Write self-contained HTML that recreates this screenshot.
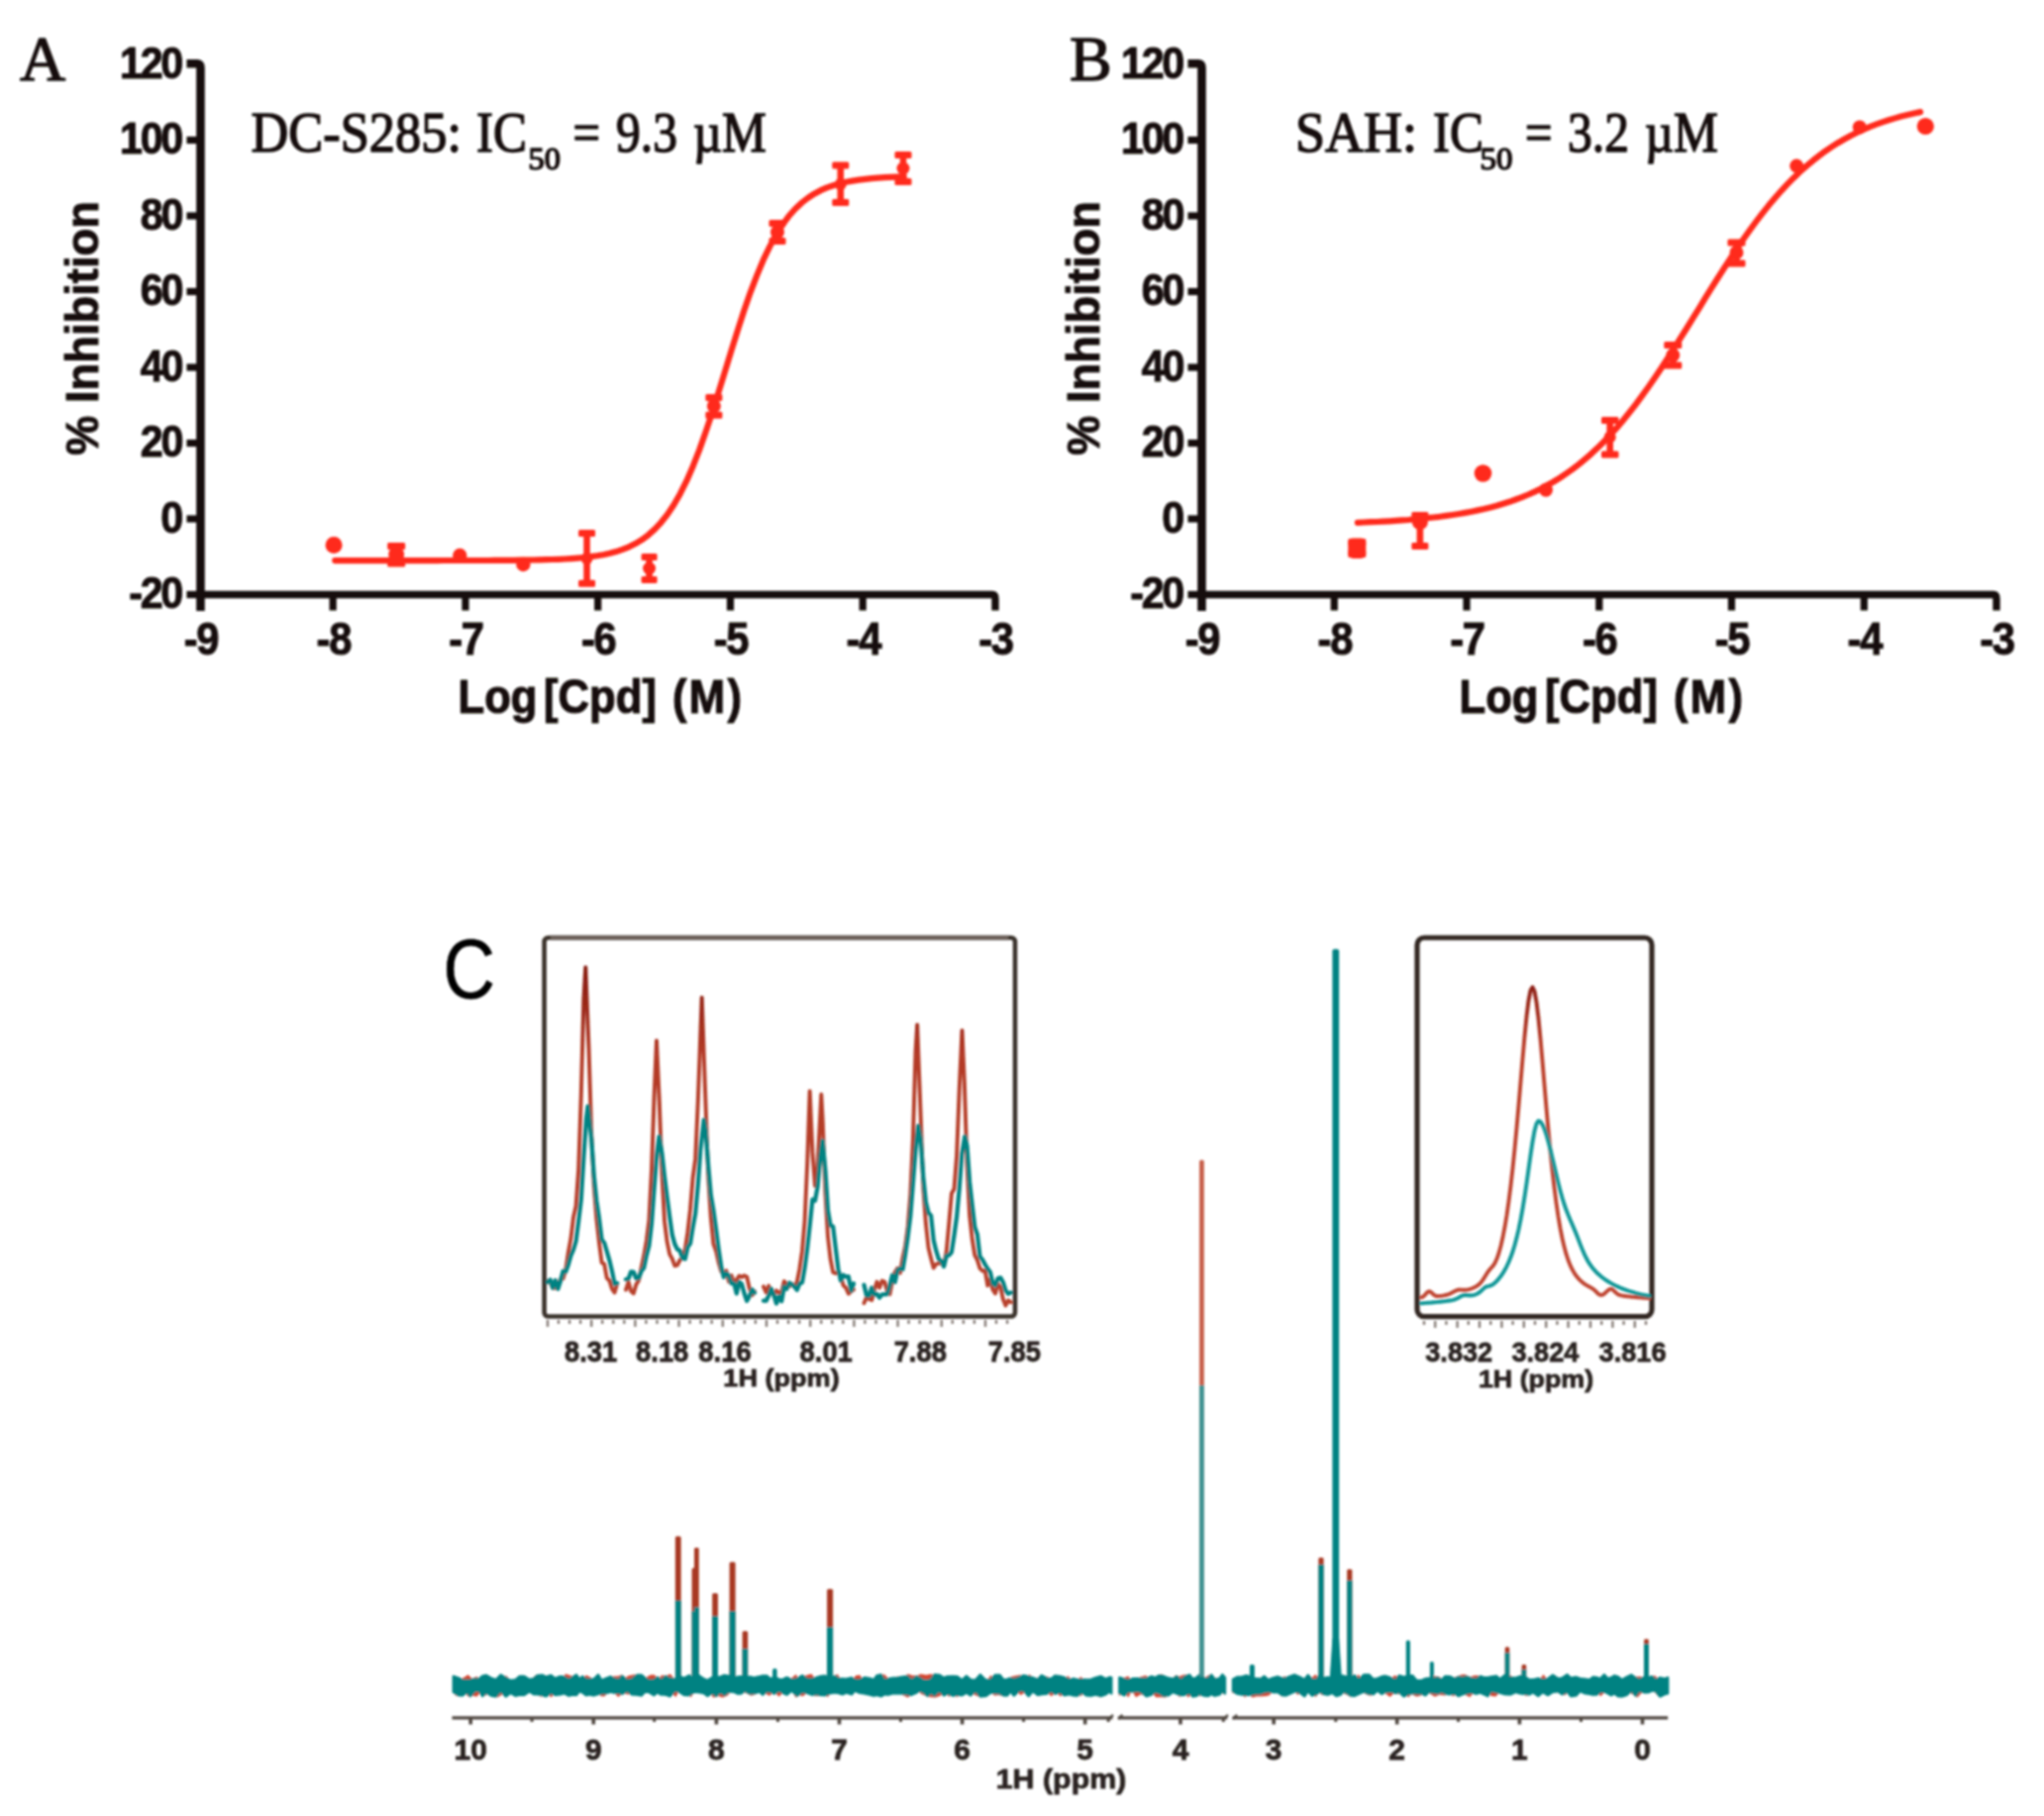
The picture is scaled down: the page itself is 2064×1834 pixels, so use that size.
<!DOCTYPE html>
<html lang="en">
<head>
<meta charset="utf-8">
<title>Figure: IC50 curves and 1H NMR spectra</title>
<style>
html,body{margin:0;padding:0;background:#fff;}
body{width:2064px;height:1834px;overflow:hidden;}
svg{display:block;}
text{white-space:pre;}
</style>
</head>
<body>
<svg width="2064" height="1834" viewBox="0 0 2064 1834">
<defs><filter id="soft" x="-2%" y="-2%" width="104%" height="104%"><feGaussianBlur stdDeviation="1.15"/></filter></defs>
<rect width="2064" height="1834" fill="#ffffff"/>
<g filter="url(#soft)">
<g>
<path d="M188.5 64.3 H199.5 Q202.5 64.3 202.5 68.3 V617" fill="none" stroke="#17110d" stroke-width="8.6" stroke-linejoin="round"/>
<path d="M198.5 600.5 H1002 Q1005 600.5 1005 604.5 V616.5" fill="none" stroke="#17110d" stroke-width="7.4" stroke-linejoin="round"/>
<rect x="188.5" y="596.9" width="14" height="7.2" fill="#17110d"/>
<text transform="translate(183 614) scale(0.92 1)" font-family='"Liberation Sans", Arial, Helvetica, sans-serif' font-size="45" font-weight="bold" text-anchor="end" fill="#17110d" letter-spacing="-2.6" stroke="#17110d" stroke-width="1.0" stroke-linejoin="round">-20</text>
<rect x="188.5" y="520.4" width="14" height="7.2" fill="#17110d"/>
<text transform="translate(183 537.5) scale(0.92 1)" font-family='"Liberation Sans", Arial, Helvetica, sans-serif' font-size="45" font-weight="bold" text-anchor="end" fill="#17110d" letter-spacing="-2.6" stroke="#17110d" stroke-width="1.0" stroke-linejoin="round">0</text>
<rect x="188.5" y="443.9" width="14" height="7.2" fill="#17110d"/>
<text transform="translate(183 461) scale(0.92 1)" font-family='"Liberation Sans", Arial, Helvetica, sans-serif' font-size="45" font-weight="bold" text-anchor="end" fill="#17110d" letter-spacing="-2.6" stroke="#17110d" stroke-width="1.0" stroke-linejoin="round">20</text>
<rect x="188.5" y="367.4" width="14" height="7.2" fill="#17110d"/>
<text transform="translate(183 384.5) scale(0.92 1)" font-family='"Liberation Sans", Arial, Helvetica, sans-serif' font-size="45" font-weight="bold" text-anchor="end" fill="#17110d" letter-spacing="-2.6" stroke="#17110d" stroke-width="1.0" stroke-linejoin="round">40</text>
<rect x="188.5" y="290.9" width="14" height="7.2" fill="#17110d"/>
<text transform="translate(183 308) scale(0.92 1)" font-family='"Liberation Sans", Arial, Helvetica, sans-serif' font-size="45" font-weight="bold" text-anchor="end" fill="#17110d" letter-spacing="-2.6" stroke="#17110d" stroke-width="1.0" stroke-linejoin="round">60</text>
<rect x="188.5" y="214.4" width="14" height="7.2" fill="#17110d"/>
<text transform="translate(183 231.5) scale(0.92 1)" font-family='"Liberation Sans", Arial, Helvetica, sans-serif' font-size="45" font-weight="bold" text-anchor="end" fill="#17110d" letter-spacing="-2.6" stroke="#17110d" stroke-width="1.0" stroke-linejoin="round">80</text>
<rect x="188.5" y="137.9" width="14" height="7.2" fill="#17110d"/>
<text transform="translate(183 155) scale(0.92 1)" font-family='"Liberation Sans", Arial, Helvetica, sans-serif' font-size="45" font-weight="bold" text-anchor="end" fill="#17110d" letter-spacing="-2.6" stroke="#17110d" stroke-width="1.0" stroke-linejoin="round">100</text>
<text transform="translate(183 78.5) scale(0.92 1)" font-family='"Liberation Sans", Arial, Helvetica, sans-serif' font-size="45" font-weight="bold" text-anchor="end" fill="#17110d" letter-spacing="-2.6" stroke="#17110d" stroke-width="1.0" stroke-linejoin="round">120</text>
<text transform="translate(203 661) scale(0.92 1)" font-family='"Liberation Sans", Arial, Helvetica, sans-serif' font-size="45.5" font-weight="bold" text-anchor="middle" fill="#17110d" letter-spacing="-1.5" stroke="#17110d" stroke-width="1.0" stroke-linejoin="round">-9</text>
<rect x="332.6" y="600.5" width="7.2" height="16" fill="#17110d"/>
<text transform="translate(336.8 661) scale(0.92 1)" font-family='"Liberation Sans", Arial, Helvetica, sans-serif' font-size="45.5" font-weight="bold" text-anchor="middle" fill="#17110d" letter-spacing="-1.5" stroke="#17110d" stroke-width="1.0" stroke-linejoin="round">-8</text>
<rect x="466.4" y="600.5" width="7.2" height="16" fill="#17110d"/>
<text transform="translate(470.5 661) scale(0.92 1)" font-family='"Liberation Sans", Arial, Helvetica, sans-serif' font-size="45.5" font-weight="bold" text-anchor="middle" fill="#17110d" letter-spacing="-1.5" stroke="#17110d" stroke-width="1.0" stroke-linejoin="round">-7</text>
<rect x="600.1" y="600.5" width="7.2" height="16" fill="#17110d"/>
<text transform="translate(604.2 661) scale(0.92 1)" font-family='"Liberation Sans", Arial, Helvetica, sans-serif' font-size="45.5" font-weight="bold" text-anchor="middle" fill="#17110d" letter-spacing="-1.5" stroke="#17110d" stroke-width="1.0" stroke-linejoin="round">-6</text>
<rect x="733.9" y="600.5" width="7.2" height="16" fill="#17110d"/>
<text transform="translate(738 661) scale(0.92 1)" font-family='"Liberation Sans", Arial, Helvetica, sans-serif' font-size="45.5" font-weight="bold" text-anchor="middle" fill="#17110d" letter-spacing="-1.5" stroke="#17110d" stroke-width="1.0" stroke-linejoin="round">-5</text>
<rect x="867.6" y="600.5" width="7.2" height="16" fill="#17110d"/>
<text transform="translate(871.8 661) scale(0.92 1)" font-family='"Liberation Sans", Arial, Helvetica, sans-serif' font-size="45.5" font-weight="bold" text-anchor="middle" fill="#17110d" letter-spacing="-1.5" stroke="#17110d" stroke-width="1.0" stroke-linejoin="round">-4</text>
<text transform="translate(1005.5 661) scale(0.92 1)" font-family='"Liberation Sans", Arial, Helvetica, sans-serif' font-size="45.5" font-weight="bold" text-anchor="middle" fill="#17110d" letter-spacing="-1.5" stroke="#17110d" stroke-width="1.0" stroke-linejoin="round">-3</text>
<text transform="translate(462.5 719.5) scale(0.92 1)" font-family='"Liberation Sans", Arial, Helvetica, sans-serif' font-size="47.5" font-weight="bold" text-anchor="start" fill="#17110d" stroke="#17110d" stroke-width="1.1" stroke-linejoin="round">Log</text>
<text transform="translate(549 719.5) scale(0.92 1)" font-family='"Liberation Sans", Arial, Helvetica, sans-serif' font-size="47.5" font-weight="bold" text-anchor="start" fill="#17110d" stroke="#17110d" stroke-width="1.1" stroke-linejoin="round">[Cpd]</text>
<text transform="translate(664.5 719.5) scale(0.92 1)" font-family='"Liberation Sans", Arial, Helvetica, sans-serif' font-size="47.5" font-weight="bold" text-anchor="start" fill="#17110d" letter-spacing="2.5" stroke="#17110d" stroke-width="1.1" stroke-linejoin="round"> (M)</text>
<g transform="translate(99 460) rotate(-90)">
<text x="0" y="0" font-family='"Liberation Sans", Arial, Helvetica, sans-serif' font-size="47" font-weight="bold" text-anchor="start" fill="#17110d" textLength="257" lengthAdjust="spacingAndGlyphs" stroke="#17110d" stroke-width="1.0" stroke-linejoin="round" >% Inhibition</text>
</g>
<text x="20" y="81" font-family='"Liberation Serif", "Times New Roman", Times, serif' font-size="64" font-weight="normal" text-anchor="start" fill="#17110d" stroke="#17110d" stroke-width="1.4" stroke-linejoin="round" >A</text>
<text x="253.5" y="152.5" font-family='"Liberation Serif", "Times New Roman", Times, serif' font-size="57" font-weight="normal" text-anchor="start" fill="#17110d" textLength="212.5" lengthAdjust="spacingAndGlyphs" stroke="#17110d" stroke-width="1.5" stroke-linejoin="round" >DC-S285:</text>
<text x="481" y="152.5" font-family='"Liberation Serif", "Times New Roman", Times, serif' font-size="57" font-weight="normal" text-anchor="start" fill="#17110d" textLength="51" lengthAdjust="spacingAndGlyphs" stroke="#17110d" stroke-width="1.5" stroke-linejoin="round" >IC</text>
<text x="533.5" y="170.5" font-family='"Liberation Serif", "Times New Roman", Times, serif' font-size="32" font-weight="normal" text-anchor="start" fill="#17110d" textLength="32.5" lengthAdjust="spacingAndGlyphs" stroke="#17110d" stroke-width="1.5" stroke-linejoin="round" >50</text>
<text x="578.5" y="152.5" font-family='"Liberation Serif", "Times New Roman", Times, serif' font-size="57" font-weight="normal" text-anchor="start" fill="#17110d" textLength="27.5" lengthAdjust="spacingAndGlyphs" stroke="#17110d" stroke-width="1.5" stroke-linejoin="round" >=</text>
<text x="622" y="152.5" font-family='"Liberation Serif", "Times New Roman", Times, serif' font-size="57" font-weight="normal" text-anchor="start" fill="#17110d" textLength="62" lengthAdjust="spacingAndGlyphs" stroke="#17110d" stroke-width="1.5" stroke-linejoin="round" >9.3</text>
<text x="700" y="152.5" font-family='"Liberation Serif", "Times New Roman", Times, serif' font-size="57" font-weight="normal" text-anchor="start" fill="#17110d" textLength="74" lengthAdjust="spacingAndGlyphs" stroke="#17110d" stroke-width="1.5" stroke-linejoin="round" >µM</text>
<path d="M338.3 566.1 L344.7 566.1 L351.2 566.1 L357.6 566.1 L364.1 566.1 L370.5 566.1 L377 566.1 L383.4 566.1 L389.9 566.1 L396.3 566.1 L402.8 566.1 L409.3 566.1 L415.7 566.1 L422.2 566.1 L428.6 566.1 L435.1 566.1 L441.5 566.1 L448 566 L454.4 566 L460.9 566 L467.3 566 L473.8 566 L480.3 566 L486.7 566 L493.2 566 L499.6 565.9 L506.1 565.9 L512.5 565.8 L519 565.8 L525.4 565.7 L531.9 565.6 L538.3 565.5 L544.8 565.4 L551.3 565.2 L557.7 565 L564.2 564.8 L570.6 564.5 L577.1 564.1 L583.5 563.6 L590 563 L596.4 562.2 L602.9 561.3 L609.3 560.2 L615.8 558.8 L622.3 557.1 L628.7 554.9 L635.2 552.3 L641.6 549.1 L648.1 545.2 L654.5 540.4 L661 534.7 L667.4 527.8 L673.9 519.6 L680.3 510 L686.8 498.7 L693.3 485.7 L699.7 470.9 L706.2 454.4 L712.6 436.3 L719.1 416.9 L725.5 396.4 L732 375.4 L738.4 354.3 L744.9 333.6 L751.3 313.7 L757.8 295.1 L764.3 278.1 L770.7 262.7 L777.2 249.1 L783.6 237.2 L790.1 227 L796.5 218.3 L803 211 L809.4 204.9 L815.9 199.9 L822.3 195.7 L828.8 192.2 L835.3 189.4 L841.7 187.2 L848.2 185.3 L854.6 183.8 L861.1 182.6 L867.5 181.6 L874 180.8 L880.4 180.1 L886.9 179.6 L893.3 179.2 L899.8 178.9 L906.3 178.6 L912.7 178.4" fill="none" stroke="#ff2a1c" stroke-width="6.2" stroke-linecap="round" stroke-linejoin="round"/>
<circle cx="337.1" cy="550.4" r="8.5" fill="#ff2a1c"/>
<path d="M400.2 549 V571.4" stroke="#ff2a1c" stroke-width="6.6" fill="none"/>
<rect x="391.2" y="548" width="18" height="7" rx="1.5" fill="#ff2a1c"/>
<rect x="391.2" y="565.4" width="18" height="7" rx="1.5" fill="#ff2a1c"/>
<circle cx="400.2" cy="560" r="8" fill="#ff2a1c"/>
<circle cx="464.3" cy="561" r="7.2" fill="#ff2a1c"/>
<circle cx="528.4" cy="570" r="7.2" fill="#ff2a1c"/>
<path d="M592.6 536 V591.7" stroke="#ff2a1c" stroke-width="6.6" fill="none"/>
<rect x="584.1" y="535" width="17" height="7" rx="1.5" fill="#ff2a1c"/>
<rect x="584.1" y="585.7" width="17" height="7" rx="1.5" fill="#ff2a1c"/>
<circle cx="592.6" cy="564" r="6" fill="#ff2a1c"/>
<path d="M655.6 560 V588" stroke="#ff2a1c" stroke-width="6.6" fill="none"/>
<rect x="647.6" y="559" width="16" height="7" rx="1.5" fill="#ff2a1c"/>
<rect x="647.6" y="582" width="16" height="7" rx="1.5" fill="#ff2a1c"/>
<circle cx="655.6" cy="574" r="6.5" fill="#ff2a1c"/>
<path d="M720.9 399 V421.8" stroke="#ff2a1c" stroke-width="6.6" fill="none"/>
<rect x="712.4" y="398" width="17" height="7" rx="1.5" fill="#ff2a1c"/>
<rect x="712.4" y="415.8" width="17" height="7" rx="1.5" fill="#ff2a1c"/>
<circle cx="720.9" cy="410" r="7" fill="#ff2a1c"/>
<path d="M785 223 V246" stroke="#ff2a1c" stroke-width="6.6" fill="none"/>
<rect x="776.5" y="222" width="17" height="7" rx="1.5" fill="#ff2a1c"/>
<rect x="776.5" y="240" width="17" height="7" rx="1.5" fill="#ff2a1c"/>
<circle cx="785" cy="234.5" r="7" fill="#ff2a1c"/>
<path d="M848.8 164.6 V207" stroke="#ff2a1c" stroke-width="6.6" fill="none"/>
<rect x="840.3" y="163.6" width="17" height="7" rx="1.5" fill="#ff2a1c"/>
<rect x="840.3" y="201" width="17" height="7" rx="1.5" fill="#ff2a1c"/>
<circle cx="848.8" cy="186" r="6" fill="#ff2a1c"/>
<path d="M912 154 V186" stroke="#ff2a1c" stroke-width="6.6" fill="none"/>
<rect x="903.5" y="153" width="17" height="7" rx="1.5" fill="#ff2a1c"/>
<rect x="903.5" y="180" width="17" height="7" rx="1.5" fill="#ff2a1c"/>
<circle cx="912" cy="170" r="6.5" fill="#ff2a1c"/>
</g>
<g>
<path d="M1199.5 64.3 H1210.5 Q1213.5 64.3 1213.5 68.3 V617" fill="none" stroke="#17110d" stroke-width="8.6" stroke-linejoin="round"/>
<path d="M1209.5 600.5 H2013 Q2016 600.5 2016 604.5 V616.5" fill="none" stroke="#17110d" stroke-width="7.4" stroke-linejoin="round"/>
<rect x="1199.5" y="596.9" width="14" height="7.2" fill="#17110d"/>
<text transform="translate(1194 614) scale(0.92 1)" font-family='"Liberation Sans", Arial, Helvetica, sans-serif' font-size="45" font-weight="bold" text-anchor="end" fill="#17110d" letter-spacing="-2.6" stroke="#17110d" stroke-width="1.0" stroke-linejoin="round">-20</text>
<rect x="1199.5" y="520.4" width="14" height="7.2" fill="#17110d"/>
<text transform="translate(1194 537.5) scale(0.92 1)" font-family='"Liberation Sans", Arial, Helvetica, sans-serif' font-size="45" font-weight="bold" text-anchor="end" fill="#17110d" letter-spacing="-2.6" stroke="#17110d" stroke-width="1.0" stroke-linejoin="round">0</text>
<rect x="1199.5" y="443.9" width="14" height="7.2" fill="#17110d"/>
<text transform="translate(1194 461) scale(0.92 1)" font-family='"Liberation Sans", Arial, Helvetica, sans-serif' font-size="45" font-weight="bold" text-anchor="end" fill="#17110d" letter-spacing="-2.6" stroke="#17110d" stroke-width="1.0" stroke-linejoin="round">20</text>
<rect x="1199.5" y="367.4" width="14" height="7.2" fill="#17110d"/>
<text transform="translate(1194 384.5) scale(0.92 1)" font-family='"Liberation Sans", Arial, Helvetica, sans-serif' font-size="45" font-weight="bold" text-anchor="end" fill="#17110d" letter-spacing="-2.6" stroke="#17110d" stroke-width="1.0" stroke-linejoin="round">40</text>
<rect x="1199.5" y="290.9" width="14" height="7.2" fill="#17110d"/>
<text transform="translate(1194 308) scale(0.92 1)" font-family='"Liberation Sans", Arial, Helvetica, sans-serif' font-size="45" font-weight="bold" text-anchor="end" fill="#17110d" letter-spacing="-2.6" stroke="#17110d" stroke-width="1.0" stroke-linejoin="round">60</text>
<rect x="1199.5" y="214.4" width="14" height="7.2" fill="#17110d"/>
<text transform="translate(1194 231.5) scale(0.92 1)" font-family='"Liberation Sans", Arial, Helvetica, sans-serif' font-size="45" font-weight="bold" text-anchor="end" fill="#17110d" letter-spacing="-2.6" stroke="#17110d" stroke-width="1.0" stroke-linejoin="round">80</text>
<rect x="1199.5" y="137.9" width="14" height="7.2" fill="#17110d"/>
<text transform="translate(1194 155) scale(0.92 1)" font-family='"Liberation Sans", Arial, Helvetica, sans-serif' font-size="45" font-weight="bold" text-anchor="end" fill="#17110d" letter-spacing="-2.6" stroke="#17110d" stroke-width="1.0" stroke-linejoin="round">100</text>
<text transform="translate(1194 78.5) scale(0.92 1)" font-family='"Liberation Sans", Arial, Helvetica, sans-serif' font-size="45" font-weight="bold" text-anchor="end" fill="#17110d" letter-spacing="-2.6" stroke="#17110d" stroke-width="1.0" stroke-linejoin="round">120</text>
<text transform="translate(1214 661) scale(0.92 1)" font-family='"Liberation Sans", Arial, Helvetica, sans-serif' font-size="45.5" font-weight="bold" text-anchor="middle" fill="#17110d" letter-spacing="-1.5" stroke="#17110d" stroke-width="1.0" stroke-linejoin="round">-9</text>
<rect x="1343.7" y="600.5" width="7.2" height="16" fill="#17110d"/>
<text transform="translate(1347.8 661) scale(0.92 1)" font-family='"Liberation Sans", Arial, Helvetica, sans-serif' font-size="45.5" font-weight="bold" text-anchor="middle" fill="#17110d" letter-spacing="-1.5" stroke="#17110d" stroke-width="1.0" stroke-linejoin="round">-8</text>
<rect x="1477.4" y="600.5" width="7.2" height="16" fill="#17110d"/>
<text transform="translate(1481.5 661) scale(0.92 1)" font-family='"Liberation Sans", Arial, Helvetica, sans-serif' font-size="45.5" font-weight="bold" text-anchor="middle" fill="#17110d" letter-spacing="-1.5" stroke="#17110d" stroke-width="1.0" stroke-linejoin="round">-7</text>
<rect x="1611.2" y="600.5" width="7.2" height="16" fill="#17110d"/>
<text transform="translate(1615.2 661) scale(0.92 1)" font-family='"Liberation Sans", Arial, Helvetica, sans-serif' font-size="45.5" font-weight="bold" text-anchor="middle" fill="#17110d" letter-spacing="-1.5" stroke="#17110d" stroke-width="1.0" stroke-linejoin="round">-6</text>
<rect x="1744.9" y="600.5" width="7.2" height="16" fill="#17110d"/>
<text transform="translate(1749 661) scale(0.92 1)" font-family='"Liberation Sans", Arial, Helvetica, sans-serif' font-size="45.5" font-weight="bold" text-anchor="middle" fill="#17110d" letter-spacing="-1.5" stroke="#17110d" stroke-width="1.0" stroke-linejoin="round">-5</text>
<rect x="1878.7" y="600.5" width="7.2" height="16" fill="#17110d"/>
<text transform="translate(1882.8 661) scale(0.92 1)" font-family='"Liberation Sans", Arial, Helvetica, sans-serif' font-size="45.5" font-weight="bold" text-anchor="middle" fill="#17110d" letter-spacing="-1.5" stroke="#17110d" stroke-width="1.0" stroke-linejoin="round">-4</text>
<text transform="translate(2016.5 661) scale(0.92 1)" font-family='"Liberation Sans", Arial, Helvetica, sans-serif' font-size="45.5" font-weight="bold" text-anchor="middle" fill="#17110d" letter-spacing="-1.5" stroke="#17110d" stroke-width="1.0" stroke-linejoin="round">-3</text>
<text transform="translate(1473.5 719.5) scale(0.92 1)" font-family='"Liberation Sans", Arial, Helvetica, sans-serif' font-size="47.5" font-weight="bold" text-anchor="start" fill="#17110d" stroke="#17110d" stroke-width="1.1" stroke-linejoin="round">Log</text>
<text transform="translate(1560 719.5) scale(0.92 1)" font-family='"Liberation Sans", Arial, Helvetica, sans-serif' font-size="47.5" font-weight="bold" text-anchor="start" fill="#17110d" stroke="#17110d" stroke-width="1.1" stroke-linejoin="round">[Cpd]</text>
<text transform="translate(1675.5 719.5) scale(0.92 1)" font-family='"Liberation Sans", Arial, Helvetica, sans-serif' font-size="47.5" font-weight="bold" text-anchor="start" fill="#17110d" letter-spacing="2.5" stroke="#17110d" stroke-width="1.1" stroke-linejoin="round"> (M)</text>
<g transform="translate(1110 460) rotate(-90)">
<text x="0" y="0" font-family='"Liberation Sans", Arial, Helvetica, sans-serif' font-size="47" font-weight="bold" text-anchor="start" fill="#17110d" textLength="257" lengthAdjust="spacingAndGlyphs" stroke="#17110d" stroke-width="1.0" stroke-linejoin="round" >% Inhibition</text>
</g>
<text x="1080" y="81" font-family='"Liberation Serif", "Times New Roman", Times, serif' font-size="64" font-weight="normal" text-anchor="start" fill="#17110d" stroke="#17110d" stroke-width="1.4" stroke-linejoin="round" >B</text>
<text x="1308" y="152.5" font-family='"Liberation Serif", "Times New Roman", Times, serif' font-size="57" font-weight="normal" text-anchor="start" fill="#17110d" textLength="123" lengthAdjust="spacingAndGlyphs" stroke="#17110d" stroke-width="1.5" stroke-linejoin="round" >SAH:</text>
<text x="1447" y="152.5" font-family='"Liberation Serif", "Times New Roman", Times, serif' font-size="57" font-weight="normal" text-anchor="start" fill="#17110d" textLength="51" lengthAdjust="spacingAndGlyphs" stroke="#17110d" stroke-width="1.5" stroke-linejoin="round" >IC</text>
<text x="1494.5" y="170.8" font-family='"Liberation Serif", "Times New Roman", Times, serif' font-size="32" font-weight="normal" text-anchor="start" fill="#17110d" textLength="33" lengthAdjust="spacingAndGlyphs" stroke="#17110d" stroke-width="1.5" stroke-linejoin="round" >50</text>
<text x="1540" y="152.5" font-family='"Liberation Serif", "Times New Roman", Times, serif' font-size="57" font-weight="normal" text-anchor="start" fill="#17110d" textLength="27.5" lengthAdjust="spacingAndGlyphs" stroke="#17110d" stroke-width="1.5" stroke-linejoin="round" >=</text>
<text x="1583" y="152.5" font-family='"Liberation Serif", "Times New Roman", Times, serif' font-size="57" font-weight="normal" text-anchor="start" fill="#17110d" textLength="62" lengthAdjust="spacingAndGlyphs" stroke="#17110d" stroke-width="1.5" stroke-linejoin="round" >3.2</text>
<text x="1661" y="152.5" font-family='"Liberation Serif", "Times New Roman", Times, serif' font-size="57" font-weight="normal" text-anchor="start" fill="#17110d" textLength="74" lengthAdjust="spacingAndGlyphs" stroke="#17110d" stroke-width="1.5" stroke-linejoin="round" >µM</text>
<path d="M1370.9 527.8 L1377.3 527.5 L1383.7 527.2 L1390.1 527 L1396.5 526.6 L1402.8 526.3 L1409.2 525.9 L1415.6 525.4 L1422 525 L1428.4 524.4 L1434.8 523.9 L1441.1 523.2 L1447.5 522.5 L1453.9 521.8 L1460.3 520.9 L1466.7 520 L1473.1 519 L1479.5 517.9 L1485.8 516.7 L1492.2 515.4 L1498.6 514 L1505 512.4 L1511.4 510.7 L1517.8 508.8 L1524.1 506.8 L1530.5 504.5 L1536.9 502.1 L1543.3 499.5 L1549.7 496.6 L1556.1 493.5 L1562.4 490.1 L1568.8 486.5 L1575.2 482.6 L1581.6 478.3 L1588 473.8 L1594.4 468.9 L1600.7 463.6 L1607.1 458.1 L1613.5 452.1 L1619.9 445.7 L1626.3 439 L1632.7 431.9 L1639 424.4 L1645.4 416.5 L1651.8 408.3 L1658.2 399.7 L1664.6 390.8 L1671 381.6 L1677.4 372.1 L1683.7 362.3 L1690.1 352.4 L1696.5 342.2 L1702.9 332 L1709.3 321.7 L1715.7 311.3 L1722 300.9 L1728.4 290.7 L1734.8 280.5 L1741.2 270.5 L1747.6 260.6 L1754 251 L1760.3 241.7 L1766.7 232.7 L1773.1 224 L1779.5 215.6 L1785.9 207.6 L1792.3 200 L1798.6 192.8 L1805 185.9 L1811.4 179.4 L1817.8 173.3 L1824.2 167.6 L1830.6 162.3 L1837 157.3 L1843.3 152.6 L1849.7 148.3 L1856.1 144.2 L1862.5 140.5 L1868.9 137 L1875.3 133.8 L1881.6 130.9 L1888 128.2 L1894.4 125.7 L1900.8 123.4 L1907.2 121.3 L1913.6 119.4 L1919.9 117.6 L1926.3 116 L1932.7 114.5 L1939.1 113.1" fill="none" stroke="#ff2a1c" stroke-width="6.2" stroke-linecap="round" stroke-linejoin="round"/>
<path d="M1370.3 545 V562" stroke="#ff2a1c" stroke-width="6.6" fill="none"/>
<rect x="1361.3" y="544" width="18" height="7" rx="1.5" fill="#ff2a1c"/>
<rect x="1361.3" y="556" width="18" height="7" rx="1.5" fill="#ff2a1c"/>
<path d="M1433.9 518 V554" stroke="#ff2a1c" stroke-width="6.6" fill="none"/>
<rect x="1425.4" y="517" width="17" height="7" rx="1.5" fill="#ff2a1c"/>
<rect x="1425.4" y="548" width="17" height="7" rx="1.5" fill="#ff2a1c"/>
<circle cx="1433.9" cy="527" r="8" fill="#ff2a1c"/>
<circle cx="1497.5" cy="478" r="8.8" fill="#ff2a1c"/>
<circle cx="1561" cy="494.7" r="7" fill="#ff2a1c"/>
<path d="M1625.7 422 V461.4" stroke="#ff2a1c" stroke-width="6.6" fill="none"/>
<rect x="1617" y="421" width="17.5" height="7" rx="1.5" fill="#ff2a1c"/>
<rect x="1617" y="455.4" width="17.5" height="7" rx="1.5" fill="#ff2a1c"/>
<circle cx="1625.7" cy="441.4" r="6" fill="#ff2a1c"/>
<path d="M1689.3 346 V371.4" stroke="#ff2a1c" stroke-width="6.6" fill="none"/>
<rect x="1680.3" y="345" width="18" height="7" rx="1.5" fill="#ff2a1c"/>
<rect x="1680.3" y="365.4" width="18" height="7" rx="1.5" fill="#ff2a1c"/>
<circle cx="1689.3" cy="358.7" r="7" fill="#ff2a1c"/>
<path d="M1753.5 242.5 V268.4" stroke="#ff2a1c" stroke-width="6.6" fill="none"/>
<rect x="1744.5" y="241.5" width="18" height="7" rx="1.5" fill="#ff2a1c"/>
<rect x="1744.5" y="262.4" width="18" height="7" rx="1.5" fill="#ff2a1c"/>
<circle cx="1753.5" cy="255" r="7" fill="#ff2a1c"/>
<circle cx="1814.2" cy="167.6" r="7" fill="#ff2a1c"/>
<circle cx="1877.8" cy="128.5" r="7" fill="#ff2a1c"/>
<circle cx="1944.3" cy="127.5" r="8.6" fill="#ff2a1c"/>
</g>
<rect x="1361.3" y="543.5" width="18" height="20.5" rx="5" fill="#ff2a1c"/>
<defs><linearGradient id="rg" gradientUnits="userSpaceOnUse" x1="0" y1="975" x2="0" y2="1300"><stop offset="0" stop-color="#861a0e"/><stop offset="0.28" stop-color="#b43b27"/><stop offset="1" stop-color="#b8402b"/></linearGradient></defs>
<g>
<rect x="549.6" y="947" width="475.4" height="382.5" rx="4" fill="none" stroke="#3a322c" stroke-width="4.6"/>
<path d="M556 947 H1018" stroke="#6a5e57" stroke-width="4.6" fill="none"/>
<path d="M553 1293.9 L555.6 1295.2 L558.2 1300.8 L560.8 1300.9 L563.4 1299.8 L566 1291.9 L568.6 1291.3 L571.2 1282.4 L573.8 1265.1 L576.4 1250.9 L579 1229.4 L581.6 1217.9 L584.2 1181 L586.8 1105.7 L589.4 1009 L591.3 976.9 L594.6 1060.2 L597.2 1145.1 L599.8 1198.5 L602.4 1231.4 L605 1255 L607.6 1275 L610.2 1276.7 L612.8 1290.8 L615.4 1293.2 L618 1301.6 L620.6 1305.5 L623.2 1296.3" fill="none" stroke="url(#rg)" stroke-width="3.9" stroke-linejoin="round" stroke-linecap="round" opacity="1.0"/>
<path d="M632 1302.6 L634.6 1294.6 L637.2 1304 L639.8 1306.2 L642.4 1297.1 L645 1293.2 L647.6 1280.1 L650.2 1268 L652.8 1253.1 L655.4 1232.3 L658 1181.3 L660.6 1106.9 L663 1050.9 L665.8 1112.7 L668.4 1184.9 L671 1233.2 L673.6 1253.9 L676.2 1266.6 L678.8 1271.3 L681.4 1278.3 L684 1277.6 L686.6 1272.5 L689.2 1270.3 L691.8 1261.7 L694.4 1244.3 L697 1221.4 L699.6 1189.5 L702.2 1170.2 L704.8 1112.3 L708.7 1007.4 L712.6 1116.4 L715.2 1188.7 L717.8 1229.6 L720.4 1256.3 L723 1263.2 L725.6 1274.9 L728.2 1283.8 L730.8 1286.5 L733.4 1283.2 L736 1294.4 L738.6 1288.1 L741.2 1295.8 L743.8 1292.3 L746.4 1288.5 L749 1289.8 L751.6 1288.3 L754.2 1289.5 L756.8 1301.1 L759.4 1308.1 L762 1304.2" fill="none" stroke="url(#rg)" stroke-width="3.9" stroke-linejoin="round" stroke-linecap="round" opacity="1.0"/>
<path d="M771 1299.4 L773.6 1305.2 L776.2 1298.6 L778.8 1306.3 L781.4 1307.6 L784 1303.4 L786.6 1305.5 L789.2 1305 L791.8 1293.9 L794.4 1297 L797 1299 L799.6 1296.5 L802.2 1299.4 L804.8 1294.7 L807.4 1281.3 L810 1263.2 L812.6 1232.8 L815.2 1174.4 L817.7 1101.9 L820.4 1163.7 L823 1197.7 L825.6 1177.4 L829.3 1105.3 L830.8 1133.4 L833.4 1204.3 L836 1249.1 L838.6 1271.7 L841.2 1285 L843.8 1286 L846.4 1284.6 L849 1288.8 L851.6 1298.3 L854.2 1300.4 L856.8 1306.6 L859.4 1304 L862 1302.3" fill="none" stroke="url(#rg)" stroke-width="3.9" stroke-linejoin="round" stroke-linecap="round" opacity="1.0"/>
<path d="M872.5 1316.1 L875.1 1309.9 L877.7 1311.9 L880.3 1313 L882.9 1302.7 L885.5 1294.5 L888.1 1300.5 L890.7 1293.6 L893.3 1294.6 L895.9 1304 L898.5 1307.1 L901.1 1293.5 L903.7 1284.8 L906.3 1280.8 L908.9 1285.6 L911.5 1270.4 L914.1 1258.8 L916.7 1239 L919.3 1206.5 L921.9 1150.7 L924.5 1062.8 L926.2 1034.9 L929.7 1127.4 L932.3 1199.3 L934.9 1235.8 L937.5 1260 L940.1 1270.7 L942.7 1280.5 L945.3 1276.7 L947.9 1275.7 L950.5 1276.2 L953.1 1277.3 L955.7 1263.7 L958.3 1235.3 L960.9 1205.3 L963.5 1200.7 L966.1 1167.1 L968.7 1100.8 L971.5 1040.6 L973.9 1094.4 L976.5 1175.5 L979.1 1227.6 L981.7 1251.4 L984.3 1267.6 L986.9 1272.6 L989.5 1280.8 L992.1 1283.5 L994.7 1283.1 L997.3 1298.3 L999.9 1291.8 L1002.5 1302.5 L1005.1 1306.3 L1007.7 1296.8 L1010.3 1300 L1012.9 1312.1 L1015.5 1318.4 L1018.1 1313.3 L1020.7 1315.1" fill="none" stroke="url(#rg)" stroke-width="3.9" stroke-linejoin="round" stroke-linecap="round" opacity="1.0"/>
<path d="M553 1294.7 L555.6 1292.5 L558.2 1300.6 L560.8 1293 L563.4 1301.6 L566 1293.7 L568.6 1283.8 L571.2 1284.4 L573.8 1277.4 L576.4 1268.1 L579 1262.1 L581.6 1253.5 L584.2 1233.3 L586.8 1211.6 L589.4 1168.3 L592 1129.5 L593.6 1117.2 L597.2 1149.9 L599.8 1187.8 L602.4 1213 L605 1230.4 L607.6 1251.7 L610.2 1255.2 L612.8 1263.8 L615.4 1272.8 L618 1283.7 L620.6 1296.7 L623.2 1295.9" fill="none" stroke="#008282" stroke-width="4.3" stroke-linejoin="round" stroke-linecap="round" opacity="1.0"/>
<path d="M632 1292 L634.6 1291.4 L637.2 1284.3 L639.8 1284.6 L642.4 1291.1 L645 1290.8 L647.6 1283.8 L650.2 1280.4 L652.8 1267.9 L655.4 1258 L658 1235.7 L660.6 1199.8 L663.2 1165.8 L665.6 1147.6 L668.4 1164.6 L671 1188.2 L673.6 1209.1 L676.2 1228.9 L678.8 1247.2 L681.4 1256.5 L684 1261.8 L686.6 1263 L689.2 1270.8 L691.8 1271.4 L694.4 1259.5 L697 1255.8 L699.6 1239.5 L702.2 1225.4 L704.8 1196.5 L707.4 1159.9 L710.8 1130.8 L712.6 1142.1 L715.2 1177.5 L717.8 1206.9 L720.4 1222 L723 1241.1 L725.6 1261.3 L728.2 1278.9 L730.8 1289.8 L733.4 1285.9 L736 1288.6 L738.6 1296.2 L741.2 1295.8 L743.8 1306.3 L746.4 1294.7 L749 1296.7 L751.6 1306.3 L754.2 1313.7 L756.8 1309.2 L759.4 1302.2 L762 1305.6" fill="none" stroke="#008282" stroke-width="4.3" stroke-linejoin="round" stroke-linecap="round" opacity="1.0"/>
<path d="M771 1313.7 L773.6 1313.7 L776.2 1308.6 L778.8 1301.5 L781.4 1307.6 L784 1316.4 L786.6 1309.3 L789.2 1314 L791.8 1299.5 L794.4 1301.6 L797 1295.6 L799.6 1297.3 L802.2 1299.2 L804.8 1302.8 L807.4 1296.2 L810 1295.2 L812.6 1280.2 L815.2 1260.4 L817.8 1236.7 L820.4 1211.5 L823 1212.6 L825.6 1198.7 L828.2 1169.4 L830.6 1152.1 L833.4 1181.9 L836 1222.4 L838.6 1237.5 L841.2 1238.7 L843.8 1260.3 L846.4 1281.6 L849 1293.2 L851.6 1287.8 L854.2 1289.3 L856.8 1289.1 L859.4 1303.4 L862 1296.3" fill="none" stroke="#008282" stroke-width="4.3" stroke-linejoin="round" stroke-linecap="round" opacity="1.0"/>
<path d="M872.5 1297.7 L875.1 1308.4 L877.7 1308.5 L880.3 1300.5 L882.9 1307.4 L885.5 1306.8 L888.1 1310.4 L890.7 1307.4 L893.3 1307.2 L895.9 1307 L898.5 1298 L901.1 1287.8 L903.7 1294.9 L906.3 1283 L908.9 1281.1 L911.5 1282.1 L914.1 1266.8 L916.7 1249.1 L919.3 1228 L921.9 1195.1 L924.5 1161.5 L927.2 1136.9 L929.7 1150.7 L932.3 1188.7 L934.9 1213.9 L937.5 1224.8 L940.1 1227.6 L942.7 1252.4 L945.3 1263.2 L947.9 1271.6 L950.5 1273.6 L953.1 1279.1 L955.7 1268.2 L958.3 1267.6 L960.9 1264.5 L963.5 1247.7 L966.1 1228.9 L968.7 1200.4 L971.3 1165.4 L974.3 1147.7 L976.5 1157.2 L979.1 1193.7 L981.7 1217.1 L984.3 1239.3 L986.9 1246.7 L989.5 1269.2 L992.1 1272.2 L994.7 1277 L997.3 1281.3 L999.9 1284.8 L1002.5 1296.2 L1005.1 1298 L1007.7 1291 L1010.3 1290.4 L1012.9 1295 L1015.5 1303.4 L1018.1 1306.6 L1020.7 1305.4" fill="none" stroke="#008282" stroke-width="4.3" stroke-linejoin="round" stroke-linecap="round" opacity="1.0"/>
<path d="M553 1333 v7 M564 1333 v4 M575.1 1333 v4 M586.1 1333 v4 M597.2 1333 v7 M608.2 1333 v4 M619.3 1333 v4 M630.3 1333 v4 M641.4 1333 v7 M652.4 1333 v4 M663.5 1333 v4 M674.5 1333 v4 M685.6 1333 v7 M696.6 1333 v4 M707.7 1333 v4 M718.7 1333 v4 M729.8 1333 v7 M740.8 1333 v4 M751.9 1333 v4 M762.9 1333 v4 M774 1333 v7 M785 1333 v4 M796.1 1333 v4 M807.1 1333 v4 M818.2 1333 v7 M829.2 1333 v4 M840.3 1333 v4 M851.3 1333 v4 M862.4 1333 v7 M873.4 1333 v4 M884.5 1333 v4 M895.5 1333 v4 M906.6 1333 v7 M917.6 1333 v4 M928.7 1333 v4 M939.7 1333 v4 M950.8 1333 v7 M961.8 1333 v4 M972.9 1333 v4 M983.9 1333 v4 M995 1333 v7 M1006 1333 v4 M1017.1 1333 v4 " stroke="#857c76" stroke-width="2.4" fill="none"/>
<text transform="translate(596.6 1375.2) scale(0.945 1)" font-family='"Liberation Sans", Arial, Helvetica, sans-serif' font-size="29" font-weight="bold" text-anchor="middle" fill="#2a2421" stroke="#2a2421" stroke-width="0.8" stroke-linejoin="round">8.31</text>
<text transform="translate(668.7 1375.2) scale(0.945 1)" font-family='"Liberation Sans", Arial, Helvetica, sans-serif' font-size="29" font-weight="bold" text-anchor="middle" fill="#2a2421" stroke="#2a2421" stroke-width="0.8" stroke-linejoin="round">8.18</text>
<text transform="translate(732 1375.2) scale(0.945 1)" font-family='"Liberation Sans", Arial, Helvetica, sans-serif' font-size="29" font-weight="bold" text-anchor="middle" fill="#2a2421" stroke="#2a2421" stroke-width="0.8" stroke-linejoin="round">8.16</text>
<text transform="translate(834.2 1375.2) scale(0.945 1)" font-family='"Liberation Sans", Arial, Helvetica, sans-serif' font-size="29" font-weight="bold" text-anchor="middle" fill="#2a2421" stroke="#2a2421" stroke-width="0.8" stroke-linejoin="round">8.01</text>
<text transform="translate(929.3 1375.2) scale(0.945 1)" font-family='"Liberation Sans", Arial, Helvetica, sans-serif' font-size="29" font-weight="bold" text-anchor="middle" fill="#2a2421" stroke="#2a2421" stroke-width="0.8" stroke-linejoin="round">7.88</text>
<text transform="translate(1024.4 1375.2) scale(0.945 1)" font-family='"Liberation Sans", Arial, Helvetica, sans-serif' font-size="29" font-weight="bold" text-anchor="middle" fill="#2a2421" stroke="#2a2421" stroke-width="0.8" stroke-linejoin="round">7.85</text>
<text transform="translate(789 1400.2) scale(1.11 1)" font-family='"Liberation Sans", Arial, Helvetica, sans-serif' font-size="24.4" font-weight="bold" text-anchor="middle" fill="#2a2421" stroke="#2a2421" stroke-width="0.8" stroke-linejoin="round">1H (ppm)</text>
</g>
<g>
<rect x="1431" y="947" width="237" height="382.7" rx="7" fill="none" stroke="#322823" stroke-width="5.2"/>
<defs><linearGradient id="rg2" gradientUnits="userSpaceOnUse" x1="0" y1="992" x2="0" y2="1320"><stop offset="0" stop-color="#8a1c10"/><stop offset="0.2" stop-color="#bb3e2a"/><stop offset="1" stop-color="#c04531"/></linearGradient></defs>
<path d="M1435.5 1310.3 L1437.5 1309.2 L1439.5 1307.1 L1441.5 1304.8 L1443.5 1304.1 L1445.5 1305.4 L1447.5 1307.4 L1449.5 1308.7 L1451.5 1309 L1453.5 1308.9 L1455.5 1308.7 L1457.5 1308.4 L1459.5 1308 L1461.5 1307.5 L1463.5 1306.8 L1465.5 1305.9 L1467.5 1304.8 L1469.5 1303.7 L1471.5 1302.9 L1473.5 1302.5 L1475.5 1302.6 L1477.5 1302.7 L1479.5 1302.8 L1481.5 1302.6 L1483.5 1302.2 L1485.5 1301.5 L1487.5 1300.7 L1489.5 1299.7 L1491.5 1298.6 L1493.5 1297.1 L1495.5 1295.1 L1497.5 1292.4 L1499.5 1289.2 L1501.5 1285.9 L1503.5 1283.1 L1505.5 1280.8 L1507.5 1278.6 L1509.5 1275.6 L1511.5 1271.3 L1513.5 1265.5 L1515.5 1258.3 L1517.5 1249.5 L1519.5 1239.2 L1521.5 1227.2 L1523.5 1213.3 L1525.5 1197.6 L1527.5 1179.9 L1529.5 1160.4 L1531.5 1139.1 L1533.5 1116.5 L1535.5 1092.9 L1537.5 1069.3 L1539.5 1046.8 L1541.5 1026.6 L1543.5 1010.6 L1545.5 1000.3 L1547.5 997 L1549.5 1001.1 L1551.5 1012 L1553.5 1028.5 L1555.5 1048.9 L1557.5 1071.7 L1559.5 1095.3 L1561.5 1118.8 L1563.5 1141.3 L1565.5 1162.4 L1567.5 1181.8 L1569.5 1199.3 L1571.5 1214.8 L1573.5 1228.5 L1575.5 1240.3 L1577.5 1250.5 L1579.5 1259.1 L1581.5 1266.4 L1583.5 1272.5 L1585.5 1277.6 L1587.5 1281.8 L1589.5 1285.4 L1591.5 1288.3 L1593.5 1290.8 L1595.5 1292.9 L1597.5 1294.7 L1599.5 1296.3 L1601.5 1297.6 L1603.5 1298.8 L1605.5 1299.9 L1607.5 1301 L1609.5 1302.4 L1611.5 1304.2 L1613.5 1306.3 L1615.5 1307.7 L1617.5 1307.9 L1619.5 1306.9 L1621.5 1305.2 L1623.5 1303.3 L1625.5 1301.9 L1627.5 1301.8 L1629.5 1303.3 L1631.5 1305.3 L1633.5 1306.9 L1635.5 1307.9 L1637.5 1308.4 L1639.5 1308.7 L1641.5 1309 L1643.5 1309.2 L1645.5 1309.4 L1647.5 1309.7 L1649.5 1309.9 L1651.5 1310 L1653.5 1310.2 L1655.5 1310.4 L1657.5 1310.6 L1659.5 1310.7 L1661.5 1310.9 L1663.5 1311 L1665.5 1311.1" fill="none" stroke="url(#rg2)" stroke-width="3.9" stroke-linejoin="round" stroke-linecap="round" opacity="1.0"/>
<path d="M1435.5 1316.2 L1437.5 1316.1 L1439.5 1315.9 L1441.5 1315.8 L1443.5 1315.6 L1445.5 1315.5 L1447.5 1315.3 L1449.5 1315.1 L1451.5 1314.9 L1453.5 1314.7 L1455.5 1314.5 L1457.5 1314.3 L1459.5 1314.1 L1461.5 1313.8 L1463.5 1313.5 L1465.5 1313.2 L1467.5 1312.8 L1469.5 1312.2 L1471.5 1311.3 L1473.5 1310.2 L1475.5 1309 L1477.5 1308.1 L1479.5 1307.8 L1481.5 1308 L1483.5 1308.3 L1485.5 1308.3 L1487.5 1308.1 L1489.5 1307.5 L1491.5 1306.7 L1493.5 1305.5 L1495.5 1303.8 L1497.5 1301.9 L1499.5 1300.1 L1501.5 1299.2 L1503.5 1298.8 L1505.5 1298.2 L1507.5 1297.2 L1509.5 1295.6 L1511.5 1293.6 L1513.5 1291.4 L1515.5 1288.8 L1517.5 1285.9 L1519.5 1282.6 L1521.5 1278.8 L1523.5 1274.5 L1525.5 1269.6 L1527.5 1264 L1529.5 1257.5 L1531.5 1250.1 L1533.5 1241.6 L1535.5 1231.9 L1537.5 1220.9 L1539.5 1208.6 L1541.5 1195.2 L1543.5 1181 L1545.5 1166.8 L1547.5 1153.4 L1549.5 1142.3 L1551.5 1134.8 L1553.5 1132 L1555.5 1132.9 L1557.5 1135.6 L1559.5 1140 L1561.5 1145.9 L1563.5 1152.9 L1565.5 1160.7 L1567.5 1169.1 L1569.5 1177.7 L1571.5 1186.3 L1573.5 1194.6 L1575.5 1202.4 L1577.5 1209.6 L1579.5 1216 L1581.5 1221.8 L1583.5 1226.9 L1585.5 1231.7 L1587.5 1236.2 L1589.5 1240.9 L1591.5 1245.8 L1593.5 1250.9 L1595.5 1256.1 L1597.5 1261.1 L1599.5 1265.8 L1601.5 1270 L1603.5 1273.7 L1605.5 1276.9 L1607.5 1279.7 L1609.5 1282.1 L1611.5 1284.3 L1613.5 1286.3 L1615.5 1288.1 L1617.5 1289.7 L1619.5 1291.2 L1621.5 1292.7 L1623.5 1294 L1625.5 1295.2 L1627.5 1296.4 L1629.5 1297.5 L1631.5 1298.5 L1633.5 1299.4 L1635.5 1300.3 L1637.5 1301.2 L1639.5 1301.9 L1641.5 1302.7 L1643.5 1303.4 L1645.5 1304 L1647.5 1304.6 L1649.5 1305.2 L1651.5 1305.8 L1653.5 1306.3 L1655.5 1306.8 L1657.5 1307.3 L1659.5 1307.7 L1661.5 1308.1 L1663.5 1308.5 L1665.5 1308.9" fill="none" stroke="#0a9696" stroke-width="3.9" stroke-linejoin="round" stroke-linecap="round" opacity="1.0"/>
<path d="M1438 1334 v4 M1449.2 1334 v7 M1460.4 1334 v4 M1471.6 1334 v7 M1482.8 1334 v4 M1494 1334 v7 M1505.2 1334 v4 M1516.4 1334 v7 M1527.6 1334 v4 M1538.8 1334 v7 M1550 1334 v4 M1561.2 1334 v7 M1572.4 1334 v4 M1583.6 1334 v7 M1594.8 1334 v4 M1606 1334 v7 M1617.2 1334 v4 M1628.4 1334 v7 M1639.6 1334 v4 M1650.8 1334 v7 M1662 1334 v4 " stroke="#857c76" stroke-width="2.4" fill="none"/>
<text transform="translate(1473.2 1375) scale(0.97 1)" font-family='"Liberation Sans", Arial, Helvetica, sans-serif' font-size="28" font-weight="bold" text-anchor="middle" fill="#2a2421" stroke="#2a2421" stroke-width="0.8" stroke-linejoin="round">3.832</text>
<text transform="translate(1560.4 1375) scale(0.97 1)" font-family='"Liberation Sans", Arial, Helvetica, sans-serif' font-size="28" font-weight="bold" text-anchor="middle" fill="#2a2421" stroke="#2a2421" stroke-width="0.8" stroke-linejoin="round">3.824</text>
<text transform="translate(1648.5 1375) scale(0.97 1)" font-family='"Liberation Sans", Arial, Helvetica, sans-serif' font-size="28" font-weight="bold" text-anchor="middle" fill="#2a2421" stroke="#2a2421" stroke-width="0.8" stroke-linejoin="round">3.816</text>
<text transform="translate(1551 1401) scale(1.1 1)" font-family='"Liberation Sans", Arial, Helvetica, sans-serif' font-size="24.4" font-weight="bold" text-anchor="middle" fill="#2a2421" stroke="#2a2421" stroke-width="0.8" stroke-linejoin="round">1H (ppm)</text>
</g>
<text transform="translate(447.6 1008.4) scale(0.85 1)" font-family='"Liberation Sans", Arial, Helvetica, sans-serif' font-size="85.5" font-weight="normal" text-anchor="start" fill="#000" stroke="#000" stroke-width="0.6" stroke-linejoin="round">C</text>
<g>
<path d="M457.8 1696.4 L460.8 1694.1 L464.9 1696.2 L468.9 1694.3 L472.5 1691.8 L476.8 1695.6 L481.5 1693.6 L485.9 1699.7 L489.8 1691.5 L494.4 1698.3 L499.7 1697.8 L502.7 1698.5 L507.6 1695 L511.3 1692.7 L515.9 1699 L519.9 1698.5 L524.2 1695.1 L529.1 1697 L534 1699.9 L539.5 1693.4 L543 1691.4 L546.3 1696.4 L551.3 1692.5 L556.5 1695.7 L560.4 1696.2 L563.6 1695.4 L567.5 1700 L571 1690.9 L574.4 1692 L579.3 1693.7 L583.3 1695 L587.6 1696.2 L591.9 1692.3 L595.7 1694 L600 1697.3 L603.3 1691 L606.7 1698.2 L610.2 1698.3 L614.8 1696.1 L619.4 1693.3 L624.1 1693.2 L627.9 1691.9 L631.5 1694.7 L635 1692.7 L640.3 1691.7 L643.6 1691.8 L648.2 1695.6 L652.1 1694.7 L657 1691.9 L661.1 1692 L664.6 1697.3 L668.2 1692.2 L672.6 1692.9 L676.9 1691 L682.3 1698.2 L685.7 1692 L690.4 1699 L693.6 1695.6 L697.6 1694.8 L701.2 1697.7 L705.6 1695.3 L710.9 1697.1 L716.3 1696.7 L720.2 1692.9 L725.5 1697.5 L729.7 1691.6 L734.7 1699.3 L738.7 1696.4 L744.1 1698.7 L748.6 1693 L753.2 1693.7 L758.5 1699.1 L763.6 1693.4 L768.2 1699.6 L773 1696.9 L777.2 1696.3 L781.3 1697.2 L786.6 1696.5 L790.4 1699.1 L795.8 1698.3 L800 1694.6 L803.7 1691.4 L807.1 1699 L810.9 1693.6 L814.9 1692.2 L819.4 1690.9 L822.8 1695.9 L827.8 1693.2 L831.9 1694.6 L835.8 1695.5 L840.8 1693.9 L845.7 1691.2 L850.2 1699.5 L855.1 1695.9 L859.3 1699.8 L864 1692.7 L868.2 1692 L872.8 1699.8 L876.5 1696 L879.9 1697.2 L883.8 1695.9 L887.7 1693.8 L892.8 1691.2 L897.6 1696.2 L901.9 1697.9 L906.5 1693.3 L911.9 1694.6 L916.9 1691 L921.5 1692.6 L926.4 1692.7 L929.7 1691 L935.2 1692.1 L940.1 1691 L944.6 1693.1 L949.7 1694.6 L954.2 1694.7 L958.2 1699.1 L963.1 1694.2 L966.4 1696.6 L971.1 1697.1 L975 1696.6 L980 1695.4 L984.4 1698.2 L989.1 1691.9 L993.2 1695.4 L997.1 1697.7 L1000.6 1692.1 L1003.8 1699.8 L1008.7 1691.1 L1012.4 1697.6 L1017.1 1696.5 L1021.7 1693.5 L1025.1 1692.9 L1030.5 1691.9 L1034.7 1697.8 L1039.6 1691.2 L1043.6 1696 L1048.5 1695 L1053.4 1694.4 L1058.1 1693.6 L1061.6 1698.9 L1065.8 1691.6 L1070.9 1699 L1074.9 1699 L1078.3 1692.8 L1082.6 1697.5 L1087 1697.7 L1091.5 1693.8 L1095.9 1698.3 L1099.9 1696.1 L1103.3 1699 L1106.6 1695.2 L1110.2 1695.7 L1114.1 1696.1 L1118.7 1697.4 L1122.3 1695.5 L1122.3 1709.5 L1118.7 1707.5 L1114.1 1706.9 L1110.2 1713.8 L1106.6 1707.9 L1103.3 1707.1 L1099.9 1710.6 L1095.9 1708.6 L1091.5 1712.2 L1087 1712.1 L1082.6 1705.7 L1078.3 1705.8 L1074.9 1709.5 L1070.9 1712.8 L1065.8 1708.5 L1061.6 1712.9 L1058.1 1709.1 L1053.4 1706.1 L1048.5 1712.6 L1043.6 1707.9 L1039.6 1710.8 L1034.7 1709 L1030.5 1711.6 L1025.1 1705.3 L1021.7 1708.6 L1017.1 1708.8 L1012.4 1712.3 L1008.7 1711.5 L1003.8 1711.9 L1000.6 1705.1 L997.1 1710.3 L993.2 1707 L989.1 1713.1 L984.4 1711.4 L980 1708.5 L975 1705.4 L971.1 1707.4 L966.4 1713.9 L963.1 1708.5 L958.2 1713.2 L954.2 1707.7 L949.7 1712.1 L944.6 1713.9 L940.1 1713.6 L935.2 1712.3 L929.7 1710.1 L926.4 1705.2 L921.5 1710 L916.9 1713.9 L911.9 1711.6 L906.5 1707.7 L901.9 1709.3 L897.6 1706.5 L892.8 1709.8 L887.7 1706 L883.8 1708.4 L879.9 1710.6 L876.5 1708.8 L872.8 1706 L868.2 1706.1 L864 1708.9 L859.3 1705.1 L855.1 1709.1 L850.2 1711.4 L845.7 1710 L840.8 1705.6 L835.8 1713.6 L831.9 1709.9 L827.8 1712.3 L822.8 1712.2 L819.4 1710.7 L814.9 1709.1 L810.9 1712.6 L807.1 1711.6 L803.7 1713.9 L800 1707.1 L795.8 1706 L790.4 1709.2 L786.6 1712.9 L781.3 1708 L777.2 1712.2 L773 1709.9 L768.2 1705.3 L763.6 1710.4 L758.5 1712.1 L753.2 1709.2 L748.6 1708.6 L744.1 1707 L738.7 1705.9 L734.7 1711.9 L729.7 1713.9 L725.5 1712.5 L720.2 1714 L716.3 1705.7 L710.9 1710.2 L705.6 1705.3 L701.2 1706.7 L697.6 1713.8 L693.6 1707.5 L690.4 1705.8 L685.7 1706.1 L682.3 1713.4 L676.9 1708 L672.6 1712.6 L668.2 1705.6 L664.6 1705.8 L661.1 1708.9 L657 1708.3 L652.1 1708 L648.2 1707.4 L643.6 1705.4 L640.3 1705.9 L635 1711.1 L631.5 1710 L627.9 1710.5 L624.1 1713.4 L619.4 1708.1 L614.8 1708 L610.2 1712.9 L606.7 1712.5 L603.3 1706.6 L600 1710.2 L595.7 1707.7 L591.9 1706.8 L587.6 1707.6 L583.3 1708 L579.3 1708.2 L574.4 1705.4 L571 1705.7 L567.5 1711.4 L563.6 1709.6 L560.4 1708.6 L556.5 1714 L551.3 1706.7 L546.3 1713.5 L543 1710.1 L539.5 1708.9 L534 1705.7 L529.1 1708.6 L524.2 1707.1 L519.9 1706.2 L515.9 1707.1 L511.3 1713.1 L507.6 1710.6 L502.7 1713.7 L499.7 1712.4 L494.4 1708.4 L489.8 1712.3 L485.9 1707.4 L481.5 1713.1 L476.8 1712 L472.5 1712.9 L468.9 1706.2 L464.9 1706.4 L460.8 1712.5 L457.8 1708.1Z" fill="#d4442e" stroke="#d4442e" stroke-width="1" stroke-linejoin="round"/>
<path d="M1130.4 1694.6 L1134.6 1695.1 L1139.3 1693.2 L1142.9 1699.7 L1147 1696 L1152.1 1693.8 L1157.3 1692.5 L1162.3 1699.8 L1167.2 1695.1 L1172.1 1691.1 L1177.1 1693.5 L1180.6 1699.6 L1183.6 1698.4 L1186.8 1692.4 L1190.9 1693.5 L1194.9 1691.9 L1199.6 1691.9 L1204.5 1696.1 L1208.2 1699.2 L1211.6 1696.2 L1217 1694.4 L1221.2 1691.9 L1224.7 1693.6 L1230.1 1696.6 L1235.4 1696.4 L1237 1695.5 L1237 1709.5 L1235.4 1710 L1230.1 1707.5 L1224.7 1712.2 L1221.2 1710.4 L1217 1707.1 L1211.6 1712.9 L1208.2 1707.7 L1204.5 1710.2 L1199.6 1713.7 L1194.9 1704.9 L1190.9 1713.4 L1186.8 1705.7 L1183.6 1707.8 L1180.6 1710.4 L1177.1 1713.8 L1172.1 1713.6 L1167.2 1713.7 L1162.3 1706.9 L1157.3 1712.4 L1152.1 1710.7 L1147 1713.6 L1142.9 1705.8 L1139.3 1713.8 L1134.6 1707.1 L1130.4 1712.3Z" fill="#d4442e" stroke="#d4442e" stroke-width="1" stroke-linejoin="round"/>
<path d="M1245 1699.8 L1249.4 1695.3 L1252.5 1694.6 L1257.4 1694 L1260.7 1696.9 L1264.2 1692.1 L1268.9 1696 L1274.3 1694.4 L1278.1 1697.4 L1282 1696.9 L1285.2 1697.9 L1288.9 1693.1 L1294.3 1694.9 L1297.6 1693.2 L1301.8 1699.6 L1306.6 1692.4 L1310.2 1699.7 L1315.5 1698 L1319 1696.5 L1323.2 1695.9 L1328.6 1691.4 L1331.7 1699.8 L1335.1 1696.6 L1339.1 1695.3 L1342.8 1693.8 L1346.9 1698.6 L1351.7 1695.9 L1355.6 1696 L1360.4 1697.1 L1364 1698.9 L1367.9 1699.2 L1371.6 1691.5 L1376.3 1697 L1379.5 1690.9 L1384.2 1699.7 L1388.5 1699.9 L1393.9 1695.6 L1398.4 1694.1 L1403.6 1697.3 L1407.9 1692.6 L1412.7 1693.8 L1417.4 1694.2 L1422.2 1693.7 L1425.2 1697.4 L1430.4 1698.7 L1435.2 1697 L1440.1 1695.3 L1443.5 1694.5 L1448.8 1693.1 L1453.7 1694.1 L1459.2 1699 L1463 1694.4 L1466.7 1695.1 L1471.5 1693.5 L1476 1691.8 L1479.6 1691.6 L1484.2 1694.3 L1488.2 1692.7 L1492.3 1692.5 L1497 1696.7 L1501.7 1696.4 L1505.4 1697.5 L1510.4 1694 L1514.7 1696.9 L1518.5 1692.2 L1523.3 1691.7 L1527.3 1693.8 L1532.5 1696.5 L1536.9 1696.2 L1540.5 1699 L1545.2 1699.8 L1549.8 1698.9 L1553.9 1698 L1558.6 1691.6 L1562.4 1697.4 L1566.5 1697.1 L1570.4 1692.6 L1575.7 1696.6 L1580.2 1696.5 L1584.5 1695.9 L1589.3 1699.3 L1592.6 1694.3 L1596 1699 L1601.3 1697.7 L1605.7 1699.1 L1611 1700 L1616.3 1695.7 L1619.7 1698.4 L1624.4 1694.5 L1628.8 1699.4 L1632.7 1697.5 L1635.7 1694.6 L1640.8 1697.2 L1645 1693.5 L1649.9 1694 L1653.5 1693.7 L1657.2 1693.6 L1662.2 1699.5 L1667.7 1695.5 L1670.8 1692.3 L1674.7 1696.6 L1680.2 1699.9 L1684.2 1695.5 L1684.2 1709.5 L1680.2 1711.5 L1674.7 1712.6 L1670.8 1708.1 L1667.7 1706.7 L1662.2 1707.4 L1657.2 1709.6 L1653.5 1713.9 L1649.9 1711.2 L1645 1708.9 L1640.8 1710.7 L1635.7 1706.8 L1632.7 1709 L1628.8 1708.3 L1624.4 1705.8 L1619.7 1709.4 L1616.3 1712.7 L1611 1706 L1605.7 1709.4 L1601.3 1710.2 L1596 1706.1 L1592.6 1710.9 L1589.3 1710.4 L1584.5 1707.6 L1580.2 1711.7 L1575.7 1709 L1570.4 1708.6 L1566.5 1708.5 L1562.4 1712.2 L1558.6 1705.5 L1553.9 1706.5 L1549.8 1706.5 L1545.2 1711.2 L1540.5 1712.3 L1536.9 1705.2 L1532.5 1708.9 L1527.3 1709.1 L1523.3 1711 L1518.5 1706.1 L1514.7 1707.6 L1510.4 1713 L1505.4 1712.2 L1501.7 1705.8 L1497 1705.8 L1492.3 1708.1 L1488.2 1708.8 L1484.2 1713.5 L1479.6 1711.2 L1476 1707.1 L1471.5 1711 L1466.7 1712.6 L1463 1708.5 L1459.2 1711.9 L1453.7 1711.1 L1448.8 1713.1 L1443.5 1709.7 L1440.1 1708.3 L1435.2 1711.7 L1430.4 1713 L1425.2 1710.3 L1422.2 1714 L1417.4 1704.9 L1412.7 1710.6 L1407.9 1709.4 L1403.6 1713.3 L1398.4 1709.5 L1393.9 1709.2 L1388.5 1705 L1384.2 1712.3 L1379.5 1710.6 L1376.3 1708.8 L1371.6 1711.2 L1367.9 1709.3 L1364 1713.3 L1360.4 1711.3 L1355.6 1709.2 L1351.7 1707.1 L1346.9 1709 L1342.8 1711.3 L1339.1 1711 L1335.1 1711.4 L1331.7 1708.7 L1328.6 1713.4 L1323.2 1707.2 L1319 1706.2 L1315.5 1707.3 L1310.2 1711.3 L1306.6 1705.4 L1301.8 1709.7 L1297.6 1705 L1294.3 1712.8 L1288.9 1707.5 L1285.2 1706.7 L1282 1711.6 L1278.1 1712.5 L1274.3 1712.8 L1268.9 1712.8 L1264.2 1713.9 L1260.7 1705.2 L1257.4 1713.8 L1252.5 1709.5 L1249.4 1706.6 L1245 1709.9Z" fill="#d4442e" stroke="#d4442e" stroke-width="1" stroke-linejoin="round"/>
<rect x="681.9" y="1551.5" width="5.8" height="150.5" rx="1.5" fill="#a83824"/>
<rect x="698.6" y="1583.6" width="4.8" height="118.4" rx="1.5" fill="#a83824"/>
<rect x="701" y="1563" width="4.8" height="139" rx="1.5" fill="#a83824"/>
<rect x="719.2" y="1609" width="5.8" height="93" rx="1.5" fill="#a83824"/>
<rect x="736.6" y="1577.5" width="6" height="124.5" rx="1.5" fill="#a83824"/>
<rect x="749.6" y="1647.2" width="5.6" height="54.8" rx="1.5" fill="#a83824"/>
<rect x="835.1" y="1604.8" width="6" height="97.2" rx="1.5" fill="#a83824"/>
<rect x="1211.1" y="1171.4" width="4.8" height="530.6" rx="1.5" fill="#c8604c"/>
<rect x="1331.4" y="1573" width="5.2" height="129" rx="1.5" fill="#a83824"/>
<rect x="1360.2" y="1584.7" width="5.2" height="117.3" rx="1.5" fill="#a83824"/>
<rect x="1519.7" y="1663.3" width="4.6" height="38.7" rx="1.5" fill="#a83824"/>
<rect x="1536.6" y="1681" width="4.6" height="21" rx="1.5" fill="#a83824"/>
<rect x="1660.1" y="1655.3" width="4.8" height="46.7" rx="1.5" fill="#a83824"/>
<path d="M457.8 1693 L462.8 1694.6 L467 1696.8 L471.3 1696.9 L474.9 1696.6 L479.9 1695.6 L483.5 1695.8 L487.2 1692.6 L490.8 1691.8 L496.1 1694.8 L501 1696.4 L505.6 1691.6 L510.9 1694.5 L515.4 1697.2 L520.7 1696.4 L524.7 1692.9 L529.4 1692.9 L534.6 1696.2 L538.9 1695.4 L542.5 1692.1 L547.8 1691.7 L551.5 1693.6 L556.4 1691.9 L560.5 1695.2 L565.5 1693.1 L569.8 1693.4 L574.2 1696.3 L578 1694.1 L582 1691.4 L585 1695.8 L588.2 1693.1 L591.8 1695.7 L595.3 1696 L599.8 1695.6 L604.2 1691.5 L607.4 1697.2 L611.9 1695 L616.4 1693.3 L620.3 1695.3 L624.6 1696.5 L628 1692.7 L633.2 1697 L638.1 1695.8 L643.3 1691.8 L647.7 1691.7 L651.1 1694.5 L655.3 1697 L660.3 1696.8 L664 1694 L667.3 1696.9 L672.3 1693 L676.4 1695 L681.6 1696.1 L685.7 1692.9 L690.8 1694.9 L696.1 1692.1 L699.2 1695.7 L702.4 1691.4 L705.5 1692.1 L710.9 1695.7 L714.4 1697.1 L719.4 1694 L722.9 1693.6 L727.3 1693.7 L731.4 1691.9 L735.8 1692.8 L739.9 1696.1 L745.3 1693.4 L748.4 1693.2 L751.9 1694.2 L757.1 1693.5 L761.5 1694.4 L766.9 1693.3 L770 1692.5 L774.3 1692.5 L778.1 1695.6 L781.8 1693.7 L787 1696.1 L790.5 1696.1 L794.5 1694.2 L799.6 1696.5 L804.7 1695.5 L810.1 1692.2 L814.9 1695.6 L820 1695.7 L824.9 1694.2 L828.7 1693 L833.2 1692.4 L837.9 1696.6 L843.3 1692.8 L846.8 1695.4 L850.8 1695.4 L854.5 1695.7 L860 1694.4 L863.2 1696.6 L868 1696.8 L872.9 1694.3 L877.6 1694.9 L882.4 1696.4 L885.5 1692.2 L889.7 1691.3 L893.4 1697 L896.7 1695.6 L901.7 1694.7 L905.8 1694.4 L910.9 1693.6 L916.2 1692.9 L920.3 1696.8 L925.6 1693.3 L928.7 1694.6 L932.6 1697.2 L936.9 1697.1 L940 1696.3 L943.6 1691.2 L948.5 1691.6 L953 1694.4 L956.7 1693.2 L962.2 1693 L966.6 1693.2 L971.3 1696.8 L975.9 1692.7 L980.1 1696.4 L985.2 1696.6 L989.9 1691.3 L995.3 1696.8 L1000.5 1696.4 L1004.7 1691.7 L1009.7 1691.8 L1013.6 1696.7 L1017.2 1695.9 L1020.3 1695 L1023.9 1695.9 L1029.1 1694.2 L1033.5 1692.1 L1038.7 1693.1 L1042.9 1694.5 L1047.9 1696.3 L1051.7 1692.1 L1057.2 1694.9 L1061.6 1695.5 L1065.2 1692.4 L1070.1 1693 L1074.7 1694.1 L1079.9 1696.4 L1084.2 1695.3 L1087.7 1696.4 L1092.7 1696.1 L1097.2 1696.4 L1101.7 1696.1 L1106.4 1694.3 L1111.8 1693 L1116.7 1695.7 L1120.8 1693.8 L1122.3 1694.2 L1122.3 1710.3 L1120.8 1708.1 L1116.7 1711.1 L1111.8 1712.8 L1106.4 1711.4 L1101.7 1712.6 L1097.2 1712.3 L1092.7 1709.5 L1087.7 1712.6 L1084.2 1712.4 L1079.9 1711 L1074.7 1712 L1070.1 1709 L1065.2 1710.6 L1061.6 1708 L1057.2 1710.5 L1051.7 1711 L1047.9 1711.8 L1042.9 1708 L1038.7 1712.9 L1033.5 1707.3 L1029.1 1707.4 L1023.9 1712.4 L1020.3 1708.1 L1017.2 1712.2 L1013.6 1712.2 L1009.7 1710.1 L1004.7 1709.7 L1000.5 1709.3 L995.3 1712.9 L989.9 1713.2 L985.2 1707.9 L980.1 1712.2 L975.9 1709.4 L971.3 1712.1 L966.6 1711.6 L962.2 1712.5 L956.7 1710.4 L953 1712.2 L948.5 1707.6 L943.6 1712.2 L940 1709.5 L936.9 1712.8 L932.6 1709.2 L928.7 1707.4 L925.6 1709.3 L920.3 1711.7 L916.2 1711.1 L910.9 1710.3 L905.8 1710.3 L901.7 1710 L896.7 1711.6 L893.4 1711 L889.7 1713.1 L885.5 1711.9 L882.4 1712.5 L877.6 1711.3 L872.9 1710.3 L868 1709.6 L863.2 1707.4 L860 1711.2 L854.5 1709.4 L850.8 1711.1 L846.8 1709.8 L843.3 1709.3 L837.9 1710.1 L833.2 1712.1 L828.7 1711.8 L824.9 1710.8 L820 1711.6 L814.9 1709.6 L810.1 1708.9 L804.7 1712.4 L799.6 1707.4 L794.5 1711.5 L790.5 1709.7 L787 1707.4 L781.8 1710.5 L778.1 1708.6 L774.3 1708.1 L770 1711.5 L766.9 1708.5 L761.5 1710 L757.1 1710.3 L751.9 1707.5 L748.4 1710.3 L745.3 1710.6 L739.9 1708.2 L735.8 1708.5 L731.4 1711.7 L727.3 1709.1 L722.9 1712.8 L719.4 1709.7 L714.4 1712.7 L710.9 1710 L705.5 1709.1 L702.4 1708.7 L699.2 1709.6 L696.1 1712 L690.8 1711.8 L685.7 1708.4 L681.6 1707.6 L676.4 1713.1 L672.3 1711.5 L667.3 1711.4 L664 1709.1 L660.3 1712 L655.3 1708.9 L651.1 1708.7 L647.7 1712.4 L643.3 1711.5 L638.1 1711.2 L633.2 1707.6 L628 1710.6 L624.6 1709.9 L620.3 1709.5 L616.4 1708.6 L611.9 1710.1 L607.4 1710.3 L604.2 1710.8 L599.8 1712.2 L595.3 1711.4 L591.8 1712 L588.2 1709.4 L585 1708 L582 1711.9 L578 1711.6 L574.2 1712.5 L569.8 1710.1 L565.5 1711.4 L560.5 1711.7 L556.4 1709.7 L551.5 1713 L547.8 1712.1 L542.5 1711 L538.9 1711 L534.6 1708.3 L529.4 1711.7 L524.7 1711.5 L520.7 1712.7 L515.4 1709.7 L510.9 1713.3 L505.6 1707.9 L501 1713.3 L496.1 1712.5 L490.8 1709.3 L487.2 1712.9 L483.5 1707.3 L479.9 1707.6 L474.9 1713 L471.3 1709 L467 1712.4 L462.8 1712 L457.8 1708.8Z" fill="#008282" stroke="#008282" stroke-width="2.4" stroke-linejoin="round"/>
<path d="M1130.4 1694.2 L1135.5 1696 L1139.4 1696.9 L1144.4 1695.2 L1149.8 1695.3 L1154.7 1695.3 L1157.7 1695.2 L1163 1693 L1166.4 1694.3 L1170.7 1692.2 L1174.7 1692.8 L1180 1694.8 L1184.5 1695.7 L1188.2 1693.1 L1192.5 1696.7 L1196.3 1693.4 L1201.2 1691.5 L1204.2 1695.4 L1207.7 1694.6 L1211.4 1691.5 L1215.9 1695.1 L1219.9 1694.9 L1223.3 1691.5 L1226.7 1696.1 L1231.4 1695.2 L1234.4 1691.3 L1237 1694.2 L1237 1710.3 L1234.4 1707.7 L1231.4 1711.4 L1226.7 1712.6 L1223.3 1710.8 L1219.9 1712.9 L1215.9 1712.5 L1211.4 1710.8 L1207.7 1712.9 L1204.2 1713.2 L1201.2 1709.8 L1196.3 1711.5 L1192.5 1712.1 L1188.2 1710.3 L1184.5 1708.8 L1180 1712 L1174.7 1712.6 L1170.7 1710.1 L1166.4 1708.7 L1163 1711.3 L1157.7 1713.1 L1154.7 1710.5 L1149.8 1707.7 L1144.4 1708.4 L1139.4 1708.4 L1135.5 1712.1 L1130.4 1709.9Z" fill="#008282" stroke="#008282" stroke-width="2.4" stroke-linejoin="round"/>
<path d="M1245 1696.1 L1249.6 1693.6 L1253.6 1693.6 L1258.7 1692.2 L1263.3 1694.1 L1268.2 1695.3 L1273.2 1695.8 L1276.6 1693 L1280.6 1696.7 L1285.4 1694.6 L1290.1 1693.4 L1294.8 1695.2 L1298.8 1694.6 L1303.9 1692.6 L1307.4 1691.5 L1312.2 1693.5 L1317.3 1696.3 L1320.8 1691.8 L1324.8 1696 L1329.4 1696.2 L1332.7 1691.5 L1336.1 1695.1 L1340.6 1693.9 L1345.1 1695.4 L1349.4 1691.2 L1353.4 1692.3 L1356.8 1692.7 L1359.9 1693.6 L1364.1 1695.2 L1367.8 1692.1 L1372.1 1696.3 L1377.3 1691.5 L1382.4 1691.4 L1386.6 1695.9 L1391 1695.1 L1395.3 1693.3 L1398.7 1692.6 L1404.2 1694.5 L1409.1 1696.9 L1412.8 1692.2 L1417.5 1693.6 L1422.2 1692.6 L1426.1 1692.1 L1430.6 1697.2 L1435.6 1697.1 L1439.4 1695.4 L1442.7 1695 L1446.8 1695.5 L1451.7 1694.5 L1455.9 1696.5 L1459.2 1693 L1463.8 1693.1 L1469 1695.5 L1472.7 1693.8 L1476.7 1694.1 L1480.4 1693.5 L1485.4 1694.9 L1490.8 1695.8 L1494.6 1693 L1498 1693.9 L1502.4 1694.2 L1506 1693.4 L1511 1692.6 L1514.7 1695.8 L1519.9 1691.6 L1525 1694.2 L1530.4 1694.6 L1535.5 1692.8 L1540.5 1694.1 L1544.5 1696.5 L1547.9 1696.3 L1553.2 1695.1 L1558 1696.5 L1563 1695.4 L1568 1691.7 L1573.5 1695.5 L1577.3 1694.8 L1582.6 1691.3 L1586.3 1694.8 L1591.7 1693.8 L1595.5 1695.1 L1600 1695.6 L1605.2 1696.5 L1608.7 1693.6 L1612.5 1694.1 L1615.7 1695.5 L1619.9 1691.3 L1623.7 1695.4 L1627.1 1694.2 L1630.2 1692.3 L1633.9 1693.5 L1637.7 1696.5 L1642.5 1693.8 L1647.2 1691.5 L1651.8 1694.7 L1655.2 1696.3 L1660.5 1693.9 L1665.1 1694.2 L1668.3 1693.2 L1672 1696.7 L1676.2 1694.4 L1681.3 1695.5 L1684.2 1694.2 L1684.2 1710.3 L1681.3 1710.8 L1676.2 1713.3 L1672 1707.9 L1668.3 1707.3 L1665.1 1709 L1660.5 1709.2 L1655.2 1707.7 L1651.8 1712.5 L1647.2 1707.5 L1642.5 1711.8 L1637.7 1713.3 L1633.9 1713.1 L1630.2 1710.2 L1627.1 1712.1 L1623.7 1710.1 L1619.9 1708.3 L1615.7 1709 L1612.5 1711.4 L1608.7 1711.6 L1605.2 1710.9 L1600 1710 L1595.5 1707.9 L1591.7 1712.3 L1586.3 1713.1 L1582.6 1708.4 L1577.3 1711.1 L1573.5 1708.1 L1568 1708.7 L1563 1711.9 L1558 1708.9 L1553.2 1712.8 L1547.9 1709.1 L1544.5 1711.2 L1540.5 1710.9 L1535.5 1710.4 L1530.4 1708.9 L1525 1711.4 L1519.9 1711 L1514.7 1709.5 L1511 1709.1 L1506 1707.7 L1502.4 1712.9 L1498 1710.8 L1494.6 1709.3 L1490.8 1710.6 L1485.4 1709.2 L1480.4 1710.2 L1476.7 1711.2 L1472.7 1712.8 L1469 1710.2 L1463.8 1711.1 L1459.2 1710.2 L1455.9 1708.7 L1451.7 1710 L1446.8 1709.2 L1442.7 1708.7 L1439.4 1712.1 L1435.6 1710.1 L1430.6 1710.4 L1426.1 1709.8 L1422.2 1711 L1417.5 1713.2 L1412.8 1708.8 L1409.1 1709.8 L1404.2 1708.4 L1398.7 1709 L1395.3 1710.8 L1391 1707.3 L1386.6 1711.1 L1382.4 1710.6 L1377.3 1708.3 L1372.1 1710.6 L1367.8 1712.7 L1364.1 1712.4 L1359.9 1709.6 L1356.8 1708.5 L1353.4 1711.7 L1349.4 1712.9 L1345.1 1709.6 L1340.6 1711.6 L1336.1 1710.6 L1332.7 1708.1 L1329.4 1710.9 L1324.8 1712.4 L1320.8 1707.8 L1317.3 1713 L1312.2 1709.3 L1307.4 1708.1 L1303.9 1710 L1298.8 1712.2 L1294.8 1712 L1290.1 1708.7 L1285.4 1709 L1280.6 1708 L1276.6 1708.9 L1273.2 1710.2 L1268.2 1710.2 L1263.3 1711.5 L1258.7 1711.9 L1253.6 1711.4 L1249.6 1710.6 L1245 1707.9Z" fill="#008282" stroke="#008282" stroke-width="2.4" stroke-linejoin="round"/>
<rect x="681.9" y="1616.3" width="5.8" height="85.7" fill="#008282"/>
<rect x="698.6" y="1627" width="4.8" height="75" fill="#008282"/>
<rect x="701" y="1623" width="4.8" height="79" fill="#008282"/>
<rect x="719.2" y="1632" width="5.8" height="70" fill="#008282"/>
<rect x="736.6" y="1627" width="6" height="75" fill="#008282"/>
<rect x="749.6" y="1665" width="5.6" height="37" fill="#008282"/>
<rect x="835.1" y="1643" width="6" height="59" fill="#008282"/>
<rect x="1211.1" y="1399" width="4.8" height="294" fill="#3f9494"/>
<rect x="1331.4" y="1580" width="5.2" height="122" fill="#008282"/>
<rect x="1360.2" y="1596" width="5.2" height="106" fill="#008282"/>
<rect x="1519.7" y="1669" width="4.6" height="33" fill="#008282"/>
<rect x="1536.6" y="1686" width="4.6" height="16" fill="#008282"/>
<rect x="1660.1" y="1660" width="4.8" height="42" fill="#008282"/>
<rect x="1345.4" y="958.5" width="6.8" height="743.5" rx="2" fill="#008282"/>
<rect x="1419.8" y="1656.5" width="4.2" height="45.5" rx="2" fill="#008282"/>
<rect x="1443.9" y="1678" width="4" height="24" rx="2" fill="#008282"/>
<rect x="780.1" y="1685" width="4.5" height="17" rx="2" fill="#008282"/>
<rect x="1261.9" y="1681" width="5" height="21" rx="2" fill="#008282"/>
<path d="M1342.4 1700 L1345.4 1655 L1352.2 1655 L1355.2 1700Z" fill="#008282"/>
<path d="M456.5 1734.8 H1123.4" stroke="#4f4640" stroke-width="3.2" fill="none"/>
<path d="M1129 1734.8 H1239.3" stroke="#4f4640" stroke-width="3.2" fill="none"/>
<path d="M1244.7 1734.8 H1684.2" stroke="#4f4640" stroke-width="3.2" fill="none"/>
<path d="M1119.5 1736 l4.5 -4 M1129 1736 l4.5 -4 M1235.5 1736 l4.5 -4 M1244.7 1736 l4.5 -4" stroke="#4f4640" stroke-width="2.4" fill="none"/>
<text transform="translate(475.2 1776.5) scale(1.0 1)" font-family='"Liberation Sans", Arial, Helvetica, sans-serif' font-size="30" font-weight="bold" text-anchor="middle" fill="#2a2421" stroke="#2a2421" stroke-width="0.8" stroke-linejoin="round">10</text>
<text transform="translate(599.3 1776.5) scale(1.0 1)" font-family='"Liberation Sans", Arial, Helvetica, sans-serif' font-size="30" font-weight="bold" text-anchor="middle" fill="#2a2421" stroke="#2a2421" stroke-width="0.8" stroke-linejoin="round">9</text>
<text transform="translate(723.4 1776.5) scale(1.0 1)" font-family='"Liberation Sans", Arial, Helvetica, sans-serif' font-size="30" font-weight="bold" text-anchor="middle" fill="#2a2421" stroke="#2a2421" stroke-width="0.8" stroke-linejoin="round">8</text>
<text transform="translate(847.5 1776.5) scale(1.0 1)" font-family='"Liberation Sans", Arial, Helvetica, sans-serif' font-size="30" font-weight="bold" text-anchor="middle" fill="#2a2421" stroke="#2a2421" stroke-width="0.8" stroke-linejoin="round">7</text>
<text transform="translate(971.6 1776.5) scale(1.0 1)" font-family='"Liberation Sans", Arial, Helvetica, sans-serif' font-size="30" font-weight="bold" text-anchor="middle" fill="#2a2421" stroke="#2a2421" stroke-width="0.8" stroke-linejoin="round">6</text>
<text transform="translate(1095.7 1776.5) scale(1.0 1)" font-family='"Liberation Sans", Arial, Helvetica, sans-serif' font-size="30" font-weight="bold" text-anchor="middle" fill="#2a2421" stroke="#2a2421" stroke-width="0.8" stroke-linejoin="round">5</text>
<text transform="translate(1192 1776.5) scale(1.0 1)" font-family='"Liberation Sans", Arial, Helvetica, sans-serif' font-size="30" font-weight="bold" text-anchor="middle" fill="#2a2421" stroke="#2a2421" stroke-width="0.8" stroke-linejoin="round">4</text>
<text transform="translate(1286.2 1776.5) scale(1.0 1)" font-family='"Liberation Sans", Arial, Helvetica, sans-serif' font-size="30" font-weight="bold" text-anchor="middle" fill="#2a2421" stroke="#2a2421" stroke-width="0.8" stroke-linejoin="round">3</text>
<text transform="translate(1410.7 1776.5) scale(1.0 1)" font-family='"Liberation Sans", Arial, Helvetica, sans-serif' font-size="30" font-weight="bold" text-anchor="middle" fill="#2a2421" stroke="#2a2421" stroke-width="0.8" stroke-linejoin="round">2</text>
<text transform="translate(1534.4 1776.5) scale(1.0 1)" font-family='"Liberation Sans", Arial, Helvetica, sans-serif' font-size="30" font-weight="bold" text-anchor="middle" fill="#2a2421" stroke="#2a2421" stroke-width="0.8" stroke-linejoin="round">1</text>
<text transform="translate(1658.5 1776.5) scale(1.0 1)" font-family='"Liberation Sans", Arial, Helvetica, sans-serif' font-size="30" font-weight="bold" text-anchor="middle" fill="#2a2421" stroke="#2a2421" stroke-width="0.8" stroke-linejoin="round">0</text>
<path d="M475.2 1734 v7.5 M599.3 1734 v7.5 M723.4 1734 v7.5 M847.5 1734 v7.5 M971.6 1734 v7.5 M1095.7 1734 v7.5 M1192 1734 v7.5 M1286.2 1734 v7.5 M1410.7 1734 v7.5 M1534.4 1734 v7.5 M1658.5 1734 v7.5 " stroke="#4f4640" stroke-width="3.6" fill="none"/>
<path d="M537.1 1734 v5 M660.7 1734 v5 M785.5 1734 v5 M909.5 1734 v5 M1033.6 1734 v5 M1119.2 1734 v5 M1235.3 1734 v5 M1348.8 1734 v5 M1472.6 1734 v5 M1596.5 1734 v5 " stroke="#4f4640" stroke-width="3" fill="none"/>
<text transform="translate(1071.5 1806) scale(1.085 1)" font-family='"Liberation Sans", Arial, Helvetica, sans-serif' font-size="28" font-weight="bold" text-anchor="middle" fill="#2a2421" stroke="#2a2421" stroke-width="0.8" stroke-linejoin="round">1H (ppm)</text>
</g>
</g>
</svg>
</body>
</html>
